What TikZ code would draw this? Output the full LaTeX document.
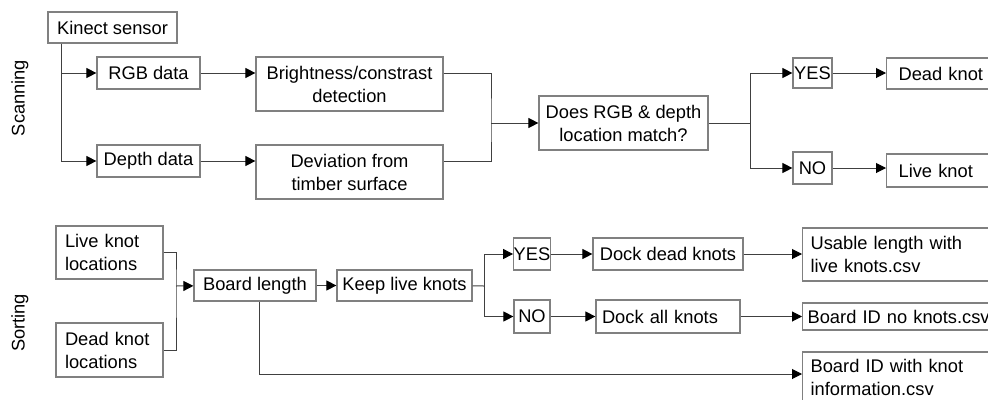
\documentclass[tikz,border=0pt]{standalone}
\usepackage{fontspec}
\setmainfont{Liberation Sans}
\usepackage{xcolor}
\usepackage{tikz}
\usetikzlibrary{arrows.meta, positioning, calc}

\definecolor{boxgray}{gray}{0.5}
\definecolor{linegray}{gray}{0.25}

\begin{document}
\begin{tikzpicture}[x=1pt, y=-1pt,
  blk/.style={draw=boxgray, line width=1.2pt, inner sep=0pt, align=center,
    font=\fontsize{18.3}{23}\selectfont},
  lblk/.style={blk, align=left, inner xsep=9pt, text width=#1},
  link/.style={draw=linegray, line width=1pt},
  arr/.style={link, -{Triangle[length=10pt, width=10pt, color=black]}}]

  \useasboundingbox (0,0) rectangle (988,399);

  % --- Scanning ---
  \node[rotate=90, font=\fontsize{18.3}{23}\selectfont] (scan) at (20,98) {Scanning};

  \node[blk, minimum width=129, minimum height=31] (kinect) at (112.5,27.5) {Kinect sensor};
  \node[blk, minimum width=103, minimum height=32] (rgb) at (148.5,73) {RGB data};
  \node[blk, minimum width=103, minimum height=32] (depth) at (148.5,161) {Depth data};
  \node[blk, minimum width=187, minimum height=54] (bright) at (349.5,84) {Brightness/constrast\\detection};
  \node[blk, minimum width=187, minimum height=54] (devi) at (349.5,172) {Deviation from\\timber surface};
  \node[blk, minimum width=169, minimum height=54] (match) at (623.5,123) {Does RGB \& depth\\location match?};
  \node[blk, minimum width=39, minimum height=30] (yes1) at (812.5,73) {YES};
  \node[blk, minimum width=39, minimum height=32] (no1) at (812.5,168) {NO};
  \node[lblk=120, minimum height=31, anchor=west, inner xsep=12pt] (dead) at (886,73.5) {Dead knot};
  \node[lblk=120, minimum height=33, anchor=west, inner xsep=12pt] (live) at (886,170.5) {Live knot};

  \coordinate (mj) at (491,123);
  \coordinate (ms) at (750,123);

  \draw[arr] ([xshift=14]kinect.south west) |- (rgb);
  \draw[arr] ([xshift=14]kinect.south west) |- (depth);
  \draw[arr] (rgb.east) -- (rgb.east -| bright.west);
  \draw[arr] (depth.east) -- (depth.east -| devi.west);
  \draw[link] (bright.east |- rgb) -| (mj) |- (devi.east |- depth);
  \draw[arr] (mj) -- (match);
  \draw[link] (match) -- (ms);
  \draw[arr] (ms) |- (yes1);
  \draw[arr] (ms) |- (no1);
  \draw[arr] (yes1.east) -- (yes1.east -| dead.west);
  \draw[arr] (no1.east) -- (no1.east -| live.west);

  % --- Sorting ---
  \node[rotate=90, font=\fontsize{18.3}{23}\selectfont] (sort) at (20,323) {Sorting};

  \node[lblk=89, minimum height=53] (livel) at (109.5,252.5) {Live knot\\locations};
  \node[lblk=89, minimum height=54] (deadl) at (109.5,350) {Dead knot\\locations};
  \node[blk, minimum width=122, minimum height=31] (board) at (255,285.5) {Board length};
  \node[blk, minimum width=135, minimum height=31] (keep) at (404.5,285.5) {Keep live knots};
  \node[blk, minimum width=36, minimum height=32] (yes2) at (532,254) {YES};
  \node[blk, minimum width=36, minimum height=33] (no2) at (532,316.5) {NO};
  \node[blk, minimum width=150, minimum height=32] (dockd) at (668,254) {Dock dead knots};
  \node[lblk=132, minimum height=33, inner xsep=6pt] (docka) at (668,316.5) {Dock all knots};
  \node[lblk=200, minimum height=53, anchor=west, inner xsep=8pt] (usable) at (802,254.5) {Usable length with\\live knots.csv};
  \node[lblk=200, minimum height=27, anchor=west, inner xsep=5pt] (noknots) at (802,316.5) {Board ID no knots.csv};
  \node[lblk=200, minimum height=50, anchor=west, inner xsep=8pt] (info) at (802,377) {Board ID with knot\\information.csv};

  \coordinate (lj) at (176,286);
  \coordinate (kj) at (484,286);

  \draw[link] (livel) -| (lj) |- (deadl);
  \draw[arr] (lj) -- (board);
  \draw[arr] (board) -- (keep);
  \draw[link] (keep) -- (kj);
  \draw[arr] (kj) |- (yes2);
  \draw[arr] (kj) |- (no2);
  \draw[arr] (yes2) -- (dockd);
  \draw[arr] (no2) -- (docka);
  \draw[arr] (dockd.east) -- (dockd.east -| usable.west);
  \draw[arr] (docka.east) -- (docka.east -| noknots.west);
  \draw[arr] ([xshift=4]board.south) |- ([yshift=3]info.west);

\end{tikzpicture}
\end{document}
